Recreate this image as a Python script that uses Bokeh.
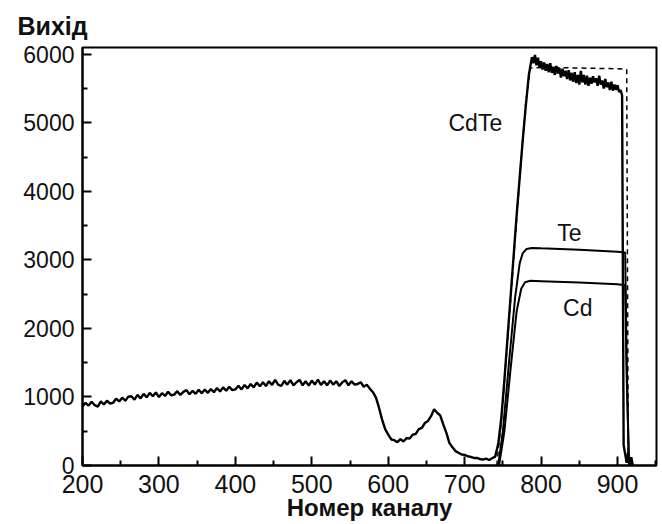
from bokeh.plotting import figure
from bokeh.models import Range1d, Label, FixedTicker
from bokeh.embed import file_html
from bokeh.resources import INLINE

# Measured spectrum, channels 200..740 step 4
meas_low_ch = list(range(200, 744, 4))
meas_low = [
    860, 915, 875, 930, 880, 860, 935, 890, 945, 905,
    915, 975, 935, 990, 945, 1005, 1010, 960, 1030, 980,
    1045, 995, 1060, 1010, 1065, 1000, 1055, 1015, 1075, 1025,
    1035, 1085, 1030, 1075, 1100, 1040, 1090, 1045, 1105, 1055,
    1110, 1060, 1115, 1070, 1130, 1080, 1140, 1090, 1150, 1100,
    1110, 1165, 1110, 1175, 1125, 1190, 1140, 1210, 1155, 1215,
    1160, 1230, 1175, 1250, 1180, 1160, 1235, 1180, 1245, 1170,
    1215, 1250, 1170, 1230, 1165, 1240, 1180, 1255, 1175, 1230,
    1170, 1240, 1180, 1230, 1160, 1215, 1245, 1170, 1230, 1180,
    1190, 1215, 1150, 1180, 1120, 1070, 990, 840, 670, 530,
    450, 380, 370, 340, 385, 350, 400, 395, 450, 460,
    530, 550, 620, 650, 720, 820, 770, 730, 600, 480,
    330, 265, 210, 185, 160, 155, 135, 125, 110, 110,
    95, 85, 100, 80, 105, 130,
]

# Measured spectrum, film region
meas_high_ch = ([744, 748, 752, 756, 760, 764, 768, 772, 776, 780, 784]
                + list(range(788, 908, 2))
                + [908, 912, 914, 916, 918, 920])
meas_high = ([320, 700, 1250, 1850, 2450, 3050, 3650, 4200, 4750, 5250, 5700]
             + [5960, 5870, 5990, 5840, 5950, 5800, 5900, 5780, 5880, 5760,
                5860, 5740, 5870, 5730, 5820, 5700, 5830, 5720, 5800, 5660,
                5790, 5680, 5760, 5640, 5770, 5620, 5730, 5600, 5740, 5580,
                5700, 5560, 5760, 5590, 5700, 5560, 5690, 5540, 5660, 5570,
                5680, 5590, 5650, 5540, 5690, 5560, 5620, 5500, 5640, 5520,
                5590, 5480, 5600, 5470, 5560, 5480, 5550, 5450, 5480, 5400]
             + [300, 40, 200, 0, 120, 0])

meas_ch = meas_low_ch + meas_high_ch
meas_val = meas_low + meas_high

# Simulated CdTe (dashed)
sim_ch = [742, 748, 756, 764, 772, 780, 786, 800, 850, 900, 912, 914, 918]
sim_cdte = [0, 650, 1800, 3000, 4200, 5300, 5800, 5810, 5800, 5790, 5780, 200, 0]

# Te partial spectrum
te_ch = [744, 750, 758, 766, 772, 776, 781, 788, 800, 850, 900, 910, 912, 915]
te_val = [0, 500, 1500, 2450, 2950, 3100, 3160, 3175, 3170, 3150, 3120, 3110, 1500, 0]

# Cd partial spectrum
cd_ch = [745, 752, 760, 768, 774, 779, 786, 800, 850, 900, 910, 912, 915]
cd_val = [0, 500, 1400, 2250, 2580, 2675, 2695, 2690, 2670, 2645, 2630, 1300, 0]

x_ticks = [200, 300, 400, 500, 600, 700, 800, 900]
x_minor = [250, 350, 450, 550, 650, 750, 850, 950]
y_ticks = [0, 1000, 2000, 3000, 4000, 5000, 6000]
y_minor = [500, 1500, 2500, 3500, 4500, 5500]

FONT = "Liberation Sans"

p = figure(width=662, height=524, output_backend="svg", toolbar_location=None,
           x_range=Range1d(200, 951), y_range=Range1d(0, 6100),
           min_border_left=82, min_border_right=6, min_border_top=47,
           min_border_bottom=59)
p.grid.visible = False
p.background_fill_color = "white"
p.border_fill_color = "white"
p.outline_line_color = "black"
p.outline_line_width = 2

p.title.text = "Вихід"
p.title.align = "left"
p.title.offset = -65
p.title.text_font = FONT
p.title.text_font_size = "25px"
p.title.text_font_style = "bold"
p.title.text_color = "#111111"
p.title.standoff = 15

p.line(meas_ch, meas_val, line_color="black", line_width=2.4)
p.line(sim_ch, sim_cdte, line_color="black", line_width=1.5, line_dash="5 4")
p.line(te_ch, te_val, line_color="black", line_width=2)
p.line(cd_ch, cd_val, line_color="black", line_width=2)

for ax, ticks, minor in ((p.xaxis[0], x_ticks, x_minor), (p.yaxis[0], y_ticks, y_minor)):
    ax.ticker = FixedTicker(ticks=ticks, minor_ticks=minor)
    ax.axis_line_width = 2
    ax.axis_line_color = "black"
    ax.major_tick_in = 9
    ax.major_tick_out = 0
    ax.minor_tick_in = 5
    ax.minor_tick_out = 0
    ax.major_tick_line_width = 2
    ax.minor_tick_line_width = 2
    ax.major_tick_line_color = "black"
    ax.minor_tick_line_color = "black"
    ax.major_label_text_font = FONT
    ax.major_label_text_color = "#111111"

p.yaxis.major_label_text_font_size = "23px"
p.xaxis.major_label_text_font_size = "25px"
p.yaxis.major_label_standoff = 8
p.xaxis.major_label_standoff = 9
p.xaxis.axis_label = "Номер каналу"
p.xaxis.axis_label_text_font = FONT
p.xaxis.axis_label_text_font_style = "bold"
p.xaxis.axis_label_text_font_size = "24px"
p.xaxis.axis_label_standoff = -2
p.xaxis.axis_label_text_color = "#111111"

p.add_layout(Label(x=714, y=5000, text="CdTe", text_font=FONT, text_font_size="23px",
                   text_baseline="middle", text_align="center", text_color="#111111"))
p.add_layout(Label(x=837, y=3390, text="Te", text_font=FONT, text_font_size="23px",
                   text_baseline="middle", text_align="center", text_color="#111111"))
p.add_layout(Label(x=848, y=2300, text="Cd", text_font=FONT, text_font_size="23px",
                   text_baseline="middle", text_align="center", text_color="#111111"))

open("out.html", "w").write(file_html(p, INLINE))
